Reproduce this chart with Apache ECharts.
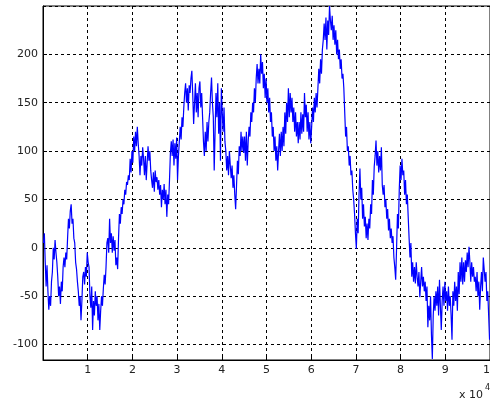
<html>
<head>
<meta charset="UTF-8">
<script src="https://cdn.jsdelivr.net/npm/echarts@6/dist/echarts.min.js"></script>
<style>
  body { margin: 0; background: #fff; }
</style>
</head>
<body>
<div id="walk" style="width:490px;height:404px"></div>
<script>
// samples taken every 0.02 (x 10^4), first one at 0.01
var xStart = 0.01;
var xStep = 0.02;
var xTicks = [1, 2, 3, 4, 5, 6, 7, 8, 9, 10];
var yTicks = [-100, -50, 0, 50, 100, 150, 200];

var walk0 = [5, 15, -15, -40, -18, -45, -64, -50, -60, -35,
  -25, 0, -12, 8, -5, -15, -30, -50, -40, -58,
  -35, -45, -20, -10, -20, -5, -12, 10, 30, 20,
  38, 45, 25, 30, 10, 5, -15, -22, -35, -45,
  -60, -50, -75, -55, -30, -25, -38, -20, -30, -5];
var walk1 = [-15, -20, -50, -62, -40, -85, -55, -70, -45, -60,
  -50, -75, -58, -85, -65, -50, -60, -42, -28, -38,
  -20, 5, 10, -5, 30, 5, 15, -5, 12, -3,
  8, -18, -10, -22, 10, 35, 25, 42, 35, 50,
  45, 60, 55, 68, 65, 75, 70, 92, 78, 100];
var walk2 = [88, 115, 100, 120, 105, 125, 108, 95, 75, 95,
  85, 104, 92, 75, 95, 70, 88, 105, 90, 100,
  80, 70, 62, 78, 58, 80, 68, 73, 60, 70,
  55, 65, 42, 60, 50, 66, 45, 60, 32, 55,
  45, 70, 98, 110, 95, 112, 85, 108, 92, 114];
var walk3 = [70, 95, 110, 125, 112, 135, 125, 145, 160, 170,
  150, 165, 142, 168, 160, 175, 183, 158, 128, 150,
  170, 140, 160, 135, 165, 172, 145, 160, 135, 110,
  95, 120, 100, 130, 110, 130, 140, 160, 176, 150,
  135, 80, 120, 160, 135, 170, 118, 150, 90, 165];
var walk4 = [140, 120, 145, 110, 100, 80, 95, 75, 100, 85,
  72, 85, 62, 75, 55, 40, 65, 90, 76, 105,
  95, 120, 100, 115, 98, 115, 90, 120, 85, 110,
  125, 115, 140, 130, 150, 140, 165, 150, 175, 190,
  170, 185, 170, 200, 180, 192, 165, 180, 155, 175];
var walk5 = [150, 165, 140, 155, 130, 140, 115, 125, 100, 115,
  90, 105, 80, 100, 118, 95, 120, 100, 125, 105,
  140, 118, 150, 130, 165, 135, 160, 140, 155, 130,
  145, 120, 140, 115, 130, 108, 130, 112, 140, 118,
  138, 120, 160, 135, 148, 120, 140, 112, 130, 108];
var walk6 = [125, 145, 130, 155, 140, 160, 145, 165, 185, 170,
  195, 180, 205, 215, 232, 215, 238, 205, 235, 220,
  250, 235, 225, 240, 215, 230, 210, 225, 200, 215,
  195, 205, 185, 195, 175, 180, 165, 140, 115, 125,
  100, 105, 85, 95, 75, 80, 60, 50, 35, 15];
var walk7 = [-1, 30, 15, 55, 82, 50, 62, 30, 45, 22,
  32, 10, 25, 8, 30, 20, 45, 35, 70, 55,
  84, 95, 111, 85, 100, 78, 95, 80, 104, 65,
  55, 65, 42, 50, 30, 40, 18, 30, 10, 20,
  5, 12, -10, -20, -33, 0, 35, 20, 60, 85];
var walk8 = [70, 92, 75, 80, 55, 70, 45, 55, 32, 10,
  -10, 5, -30, -15, -35, -20, -37, -15, -30, -40,
  -25, -51, -35, -20, -40, -30, -45, -35, -55, -40,
  -82, -60, -75, -50, -90, -115, -70, -50, -65, -45,
  -60, -40, -70, -33, -60, -85, -55, -40, -60, -35];
var walk9 = [-55, -45, -65, -40, -60, -50, -70, -95, -45, -60,
  -35, -55, -40, -65, -25, -48, -15, -35, -10, -38,
  -15, -35, -13, -25, -5, -20, 1, -15, -35, -15,
  -30, -20, -35, -30, -45, -25, -50, -35, -64, -40,
  -25, -45, -10, -8, -35, -25, -55, -45, -70, -95];

var walkVals = [].concat(walk0, walk1, walk2, walk3, walk4, walk5, walk6, walk7, walk8, walk9);
var points = walkVals.map(function (v, i) { return [xStart + i * xStep, v]; });

var chart = echarts.init(document.getElementById('walk'));
var gridLine = { show: true, lineStyle: { color: '#000', width: 1, type: [3, 3] } };
var labelFont = 'DejaVu Sans';
var option = {
  animation: false,
  backgroundColor: '#fff',
  grid: { left: 43, right: 0, top: 6, bottom: 44, show: true, borderColor: '#000', borderWidth: 1,
    containLabel: false, outerBoundsMode: 'none' },
  xAxis: {
    type: 'value', min: 0, max: 10, interval: 1,
    axisLine: { onZero: false, lineStyle: { color: '#000' } },
    axisTick: { inside: true, length: 4, lineStyle: { color: '#000' } },
    axisLabel: { showMinLabel: false, color: '#222', fontSize: 11, fontFamily: labelFont, margin: 5,
      formatter: function (v) { return xTicks.indexOf(v) >= 0 ? String(v) : ''; } },
    splitLine: gridLine
  },
  yAxis: {
    type: 'value', min: -116, max: 250, splitNumber: 7,
    axisLine: { onZero: false, lineStyle: { color: '#000' } },
    axisTick: { inside: true, length: 4, lineStyle: { color: '#000' } },
    axisLabel: { showMinLabel: false, showMaxLabel: false, color: '#222', fontSize: 11, fontFamily: labelFont, margin: 5,
      formatter: function (v) { return yTicks.indexOf(v) >= 0 ? String(v) : ''; } },
    splitLine: gridLine
  },
  graphic: [
    { type: 'text', left: 459, top: 390, style: { text: 'x 10', fontSize: 11, fontFamily: labelFont, fill: '#222' } },
    { type: 'text', left: 485, top: 384, style: { text: '4', fontSize: 8, fontFamily: labelFont, fill: '#222' } }
  ],
  series: [{
    type: 'line', data: points, showSymbol: false, sampling: 'none',
    lineStyle: { color: '#0000ff', width: 1.2 }, z: 5
  }]
};
chart.setOption(option);
</script>
</body>
</html>
